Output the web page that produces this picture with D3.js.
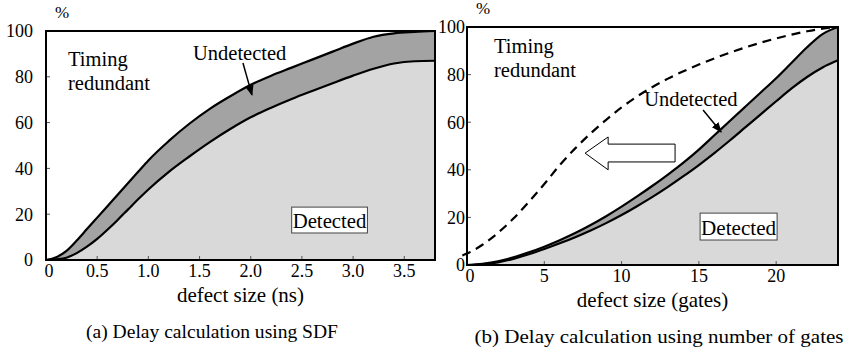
<!DOCTYPE html>
<html>
<head>
<meta charset="utf-8">
<script src="https://cdn.jsdelivr.net/npm/d3@7"></script>
</head>
<body style="margin:0">
<div id="chart"></div>
<script>
// (a) SDF delay: defect size in ns
const sdfSize = [0, 0.1, 0.2, 0.3, 0.4, 0.5, 0.6, 0.7, 0.8, 0.9, 1.0, 1.2, 1.4, 1.6, 1.8, 2.0, 2.2, 2.4, 2.6, 2.8, 3.0, 3.2, 3.4, 3.6, 3.8]
const sdfTotal = [0, 1.2, 4, 8.5, 13.5, 18.5, 23.5, 28.5, 33.5, 38.5, 43.5, 52, 59.5, 66, 71.5, 76.5, 80.5, 84, 87.5, 91, 94.5, 97.5, 99, 99.6, 100]
const sdfDetected = [0, 0.3, 1, 3, 5.8, 9.2, 13.2, 17.5, 22, 26.5, 30.8, 38.5, 45.2, 51.5, 57.2, 62.3, 66.5, 70.3, 73.8, 77.2, 80.5, 83.5, 85.8, 86.8, 87]
const sdfTicks = [0, 0.5, 1.0, 1.5, 2.0, 2.5, 3.0, 3.5]

// (b) gate-count delay: defect size in gates
const gateSize = [0, 1, 2, 3, 4, 5, 6, 7, 8, 9, 10, 11, 12, 13, 14, 15, 16, 17, 18, 19, 20, 21, 22, 23, 24]
const gateTotal = [0, 0.5, 1.5, 3.2, 5.3, 7.7, 10.4, 13.4, 16.8, 20.5, 24.5, 28.8, 33.3, 38, 43, 48.5, 54.5, 60.5, 66.5, 72.5, 78.5, 85, 91.5, 97, 100]
const gateDetected = [0, 0.3, 1.1, 2.6, 4.5, 6.7, 9.1, 11.7, 14.5, 17.6, 21, 24.7, 28.6, 32.8, 37.3, 42, 47, 52.3, 57.8, 63.3, 68.8, 74.2, 79, 83, 86]
// dashed reference curve (SDF result drawn on the gate scale)
const shiftSize = [-0.3, 0, 1, 2, 3, 4, 5, 6, 7, 8, 9, 10, 11, 12, 13, 14, 15, 16, 17, 18, 19, 20, 21, 22, 23, 24]
const shiftTotal = [4, 4.8, 8.5, 13.5, 19.5, 26.5, 34, 42, 49, 55.3, 61, 66.2, 70.8, 74.8, 78.3, 81.4, 84.2, 86.8, 89.2, 91.4, 93.4, 95.2, 96.8, 98.2, 99.3, 100]
const gateTicks = [0, 5, 10, 15, 20]

const yTicks = [0, 20, 40, 60, 80, 100]

const width = 856
const height = 347

const svg = d3.select("#chart").append("svg")
    .attr("width", width)
    .attr("height", height)

svg.append("defs").append("marker")
    .attr("id", "head")
    .attr("viewBox", "0 0 10 10")
    .attr("refX", 9).attr("refY", 5)
    .attr("markerWidth", 7).attr("markerHeight", 7)
    .attr("orient", "auto")
  .append("path")
    .attr("d", "M0,1 L10,5 L0,9 Z")
    .attr("fill", "#000")

// every text element gets its family and size set directly
const label = (sel, size) => sel
    .attr("style", `font-family: "Times New Roman", "Liberation Serif", serif; font-size: ${size}px`)

function drawPanel(p) {
  const x = d3.scaleLinear().domain(p.xDomain).range([p.left, p.right])
  const y = d3.scaleLinear().domain([0, 100]).range([p.bottom, p.top])
  const g = svg.append("g")

  const total = p.xs.map((v, i) => ({ x: v, y: p.total[i] }))
  const detected = p.xs.map((v, i) => ({ x: v, y: p.detected[i] }))
  const band = p.xs.map((v, i) => ({ x: v, y0: p.detected[i], y1: p.total[i] }))

  const line = d3.line().x(d => x(d.x)).y(d => y(d.y)).curve(d3.curveMonotoneX)

  // Undetected band
  g.append("path")
      .attr("d", d3.area().x(d => x(d.x)).y0(d => y(d.y0)).y1(d => y(d.y1))
        .curve(d3.curveMonotoneX)(band))
      .attr("fill", "#a3a3a3")

  // Detected area
  g.append("path")
      .attr("d", d3.area().x(d => x(d.x)).y0(y(0)).y1(d => y(d.y))
        .curve(d3.curveMonotoneX)(detected))
      .attr("fill", "#d9d9d9")

  g.append("path").attr("d", line(total))
      .attr("fill", "none").attr("stroke", "#000").attr("stroke-width", 2.2)
  g.append("path").attr("d", line(detected))
      .attr("fill", "none").attr("stroke", "#000").attr("stroke-width", 2.2)

  if (p.dashed) {
    const dashed = p.dashed.xs.map((v, i) => ({ x: v, y: p.dashed.ys[i] }))
    g.append("path").attr("d", line(dashed))
        .attr("fill", "none").attr("stroke", "#000").attr("stroke-width", 2.2)
        .attr("stroke-dasharray", "9,6")
  }

  // ticks (inward)
  g.selectAll(".xt").data(p.xTicks).join("line")
      .attr("x1", d => x(d)).attr("x2", d => x(d))
      .attr("y1", y(0)).attr("y2", y(0) - 4)
      .attr("stroke", "#555").attr("stroke-width", 1)
  g.selectAll(".yt").data(yTicks).join("line")
      .attr("x1", x(p.xDomain[0])).attr("x2", x(p.xDomain[0]) + 4)
      .attr("y1", d => y(d)).attr("y2", d => y(d))
      .attr("stroke", "#555").attr("stroke-width", 1)

  // frame
  g.append("path")
      .attr("d", `M${p.left},${p.top}H${p.right}V${p.bottom}H${p.left}Z`)
      .attr("fill", "none").attr("stroke", "#000").attr("stroke-width", 2)

  // tick labels
  g.selectAll(".xl").data(p.xTicks).join("text")
      .attr("x", d => x(d) + (d === 0 ? 3 : 0))
      .attr("y", p.bottom + 17)
      .attr("text-anchor", "middle")
      .call(label, 18)
      .text(p.xFormat)
  g.selectAll(".yl").data(yTicks).join("text")
      .attr("x", p.left - p.yLabelGap)
      .attr("y", d => y(d))
      .attr("dy", "0.35em")
      .attr("text-anchor", "end")
      .call(label, 18)
      .text(d => d)

  g.append("text")
      .attr("x", p.left + 9).attr("y", p.top - 13)
      .call(label, 17)
      .text("%")

  g.append("text")
      .attr("x", (p.left + p.right) / 2).attr("y", p.bottom + 42)
      .attr("text-anchor", "middle")
      .call(label, 21)
      .text(p.xTitle)

  g.append("text")
      .attr("x", p.captionX).attr("y", p.bottom + 78)
      .attr("text-anchor", "middle")
      .attr("textLength", p.captionLen)
      .attr("lengthAdjust", "spacingAndGlyphs")
      .call(label, 18)
      .text(p.caption)

  // annotations (data coordinates)
  const a = p.notes
  g.append("text").attr("x", x(a.timing[0])).attr("y", y(a.timing[1]))
      .call(label, 20.5).text("Timing")
  g.append("text").attr("x", x(a.timing[0])).attr("y", y(a.timing[2]))
      .call(label, 20.5).text("redundant")
  g.append("text").attr("x", x(a.undetected[0])).attr("y", y(a.undetected[1]))
      .call(label, 20.5).text("Undetected")
  g.append("line")
      .attr("x1", x(a.pointer[0])).attr("y1", y(a.pointer[1]))
      .attr("x2", x(a.pointer[2])).attr("y2", y(a.pointer[3]))
      .attr("stroke", "#000").attr("stroke-width", 1.5)
      .attr("marker-end", "url(#head)")

  const b = a.box
  g.append("rect")
      .attr("x", x(b[0])).attr("y", y(b[1]))
      .attr("width", x(b[2]) - x(b[0])).attr("height", y(b[3]) - y(b[1]))
      .attr("fill", "#fff").attr("stroke", "#444").attr("stroke-width", 1)
  g.append("text")
      .attr("x", (x(b[0]) + x(b[2])) / 2).attr("y", y(b[3]) - 5)
      .attr("text-anchor", "middle")
      .attr("textLength", x(b[2]) - x(b[0]) - 2)
      .attr("lengthAdjust", "spacingAndGlyphs")
      .call(label, 21).text("Detected")

  if (a.bigArrow) {
    const [tip, headX, tailX, headTop, shaftTop, shaftBot, headBot, mid] = a.bigArrow
    const pts = [[tip, mid], [headX, headTop], [headX, shaftTop], [tailX, shaftTop],
                 [tailX, shaftBot], [headX, shaftBot], [headX, headBot]]
    g.append("polygon")
        .attr("points", pts.map(q => [x(q[0]), y(q[1])].join(",")).join(" "))
        .attr("fill", "#fff").attr("stroke", "#000").attr("stroke-width", 1)
  }
}

drawPanel({
  xs: sdfSize, total: sdfTotal, detected: sdfDetected,
  xDomain: [0, 3.8], xTicks: sdfTicks,
  xFormat: d => d === 0 ? "0" : d3.format(".1f")(d),
  left: 46, right: 435, top: 31, bottom: 260, yLabelGap: 13,
  xTitle: "defect size (ns)",
  caption: "(a) Delay calculation using SDF", captionX: 212, captionLen: 252,
  notes: {
    timing: [0.215, 84.5, 74.2],
    undetected: [1.436, 87.3],
    pointer: [1.924, 86.0, 2.012, 72.1],
    box: [2.40, 23.1, 3.14, 11.8]
  }
})

drawPanel({
  xs: gateSize, total: gateTotal, detected: gateDetected,
  dashed: { xs: shiftSize, ys: shiftTotal },
  xDomain: [0, 24], xTicks: gateTicks,
  xFormat: d => d,
  left: 467, right: 838, top: 27, bottom: 265, yLabelGap: 2,
  xTitle: "defect size (gates)",
  caption: "(b) Delay calculation using number of gates", captionX: 659, captionLen: 369,
  notes: {
    timing: [1.75, 89.1, 79.0],
    undetected: [11.46, 66.8],
    pointer: [15.27, 65.1, 16.44, 55.9],
    box: [15.08, 21.8, 20.06, 10.5],
    bigArrow: [7.64, 9.13, 13.46, 53.8, 50.8, 43.3, 40, 47]
  }
})
</script>
</body>
</html>
